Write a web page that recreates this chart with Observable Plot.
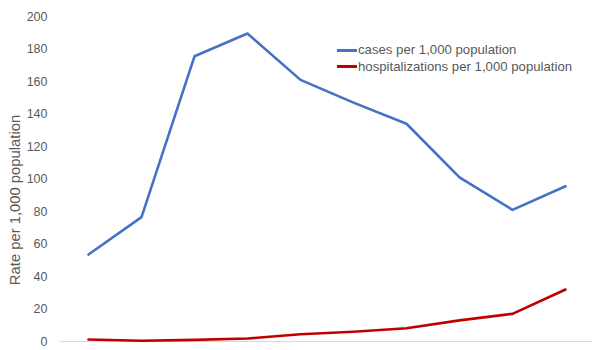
<!DOCTYPE html>
<html>
<head>
<meta charset="utf-8">
<script src="https://cdn.jsdelivr.net/npm/d3@7"></script>
<script src="https://cdn.jsdelivr.net/npm/@observablehq/plot@0.6"></script>
<style>
  html, body { margin: 0; padding: 0; background: #fff; }
  #wrap { position: relative; width: 600px; height: 350px; font-family: "Liberation Sans", Arial, sans-serif; }
  #legend { position: absolute; left: 337px; top: 42px; font-size: 13.2px; color: #595959; line-height: 16.5px; }
  #legend .item { display: flex; align-items: center; white-space: nowrap; }
  #legend .sw { display: inline-block; width: 20px; height: 3px; margin-right: 1px; }
  #ylabel { position: absolute; left: 15px; top: 200px; transform: translate(-50%, -50%) rotate(-90deg); white-space: nowrap; font-size: 14.8px; color: #595959; }
</style>
</head>
<body>
<div id="wrap"><div id="legend"></div><div id="ylabel"></div></div>
<script>
const periods = [1, 2, 3, 4, 5, 6, 7, 8, 9, 10];
const cases = [53.5, 76.5, 175.5, 189.5, 161, 147, 134, 101, 81, 95.5];
const hospitalizations = [1.2, 0.5, 1, 1.8, 4.5, 6, 8.2, 13, 17, 32];
const seriesNames = ["cases per 1,000 population", "hospitalizations per 1,000 population"];
const seriesColors = ["#4472C4", "#C00000"];
const yTicks = [0, 20, 40, 60, 80, 100, 120, 140, 160, 180, 200];
const yLabel = "Rate per 1,000 population";

const data = [];
periods.forEach((p, i) => {
  data.push({period: p, value: cases[i], series: seriesNames[0]});
  data.push({period: p, value: hospitalizations[i], series: seriesNames[1]});
});

const chart = Plot.plot({
  width: 600,
  height: 350,
  marginTop: 16,
  marginBottom: 9,
  marginLeft: 60,
  marginRight: 8,
  style: {fontFamily: "'Liberation Sans', Arial, sans-serif", fontSize: "12.5px", color: "#595959", background: "#fff"},
  x: {type: "point", domain: periods, padding: 0.5, axis: null},
  y: {domain: [0, 200], ticks: yTicks, tickSize: 0, tickPadding: 13, label: null},
  color: {domain: seriesNames, range: seriesColors},
  marks: [
    Plot.ruleY([0], {stroke: "#d9d9d9", strokeWidth: 1}),
    Plot.line(data, {x: "period", y: "value", z: "series", stroke: "series", strokeWidth: 2.6, curve: "linear"})
  ]
});
document.getElementById("wrap").prepend(chart);

document.getElementById("ylabel").textContent = yLabel;
const legend = document.getElementById("legend");
seriesNames.forEach((n, i) => {
  const it = document.createElement("div");
  it.className = "item";
  it.innerHTML = `<span class="sw" style="background:${seriesColors[i]}"></span><span>${n}</span>`;
  legend.appendChild(it);
});
</script>
</body>
</html>
